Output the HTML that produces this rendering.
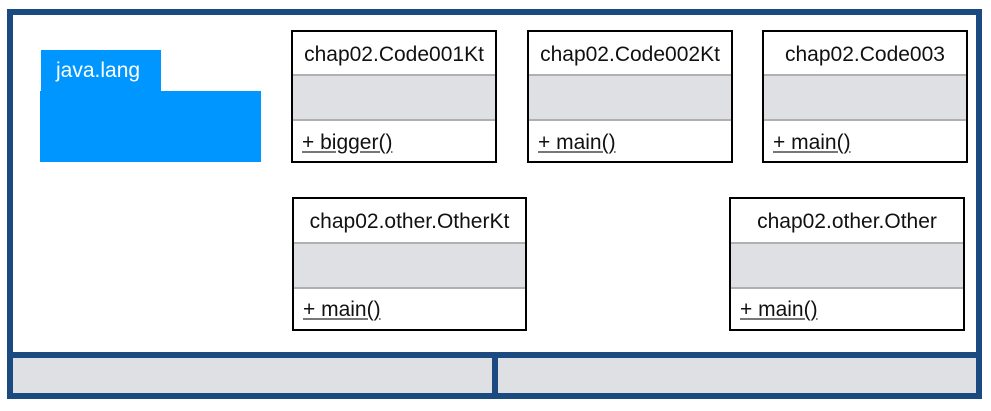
<!DOCTYPE html>
<html><head><style>
body{margin:0;width:991px;height:411px;background:#fff;position:relative;overflow:hidden;font-family:"Liberation Sans",Arial,sans-serif;}
div{position:absolute;box-sizing:border-box;}
.n{background:#1b4a80;}
.g{background:#dfe0e4;}
.box{border:2px solid #000;background:#fff;}
.t{left:0;right:0;text-align:center;font-size:21px;color:#111;white-space:nowrap;}
.sep{left:0;right:0;background:#dfe0e4;border-top:2px solid #b0b0b0;border-bottom:2px solid #b0b0b0;}
.m{left:9px;font-size:21px;color:#111;text-decoration:underline;text-decoration-color:#777;}
</style></head><body>
<div class="n" style="left:7px;top:9px;width:975px;height:390px;"></div>
<div style="left:13px;top:15px;width:963px;height:337px;background:#fff;"></div>
<div class="g" style="left:13px;top:358px;width:479px;height:35px;"></div>
<div class="g" style="left:498px;top:358px;width:478px;height:35px;"></div>

<div style="left:41px;top:50px;width:120px;height:42px;background:#0096ff;"></div>
<div style="left:40px;top:91px;width:221px;height:71px;background:#0096ff;"></div>
<div style="left:56px;top:59px;font-size:21px;color:#fff;">java.lang</div>

<div class="box" style="left:291px;top:30px;width:206px;height:133px;">
<div class="t" style="top:11px;">chap02.Code001Kt</div>
<div class="sep" style="top:42px;height:47px;"></div>
<div class="m" style="top:99px;">+ bigger()</div></div>

<div class="box" style="left:527px;top:30px;width:206px;height:133px;">
<div class="t" style="top:11px;">chap02.Code002Kt</div>
<div class="sep" style="top:42px;height:47px;"></div>
<div class="m" style="top:99px;">+ main()</div></div>

<div class="box" style="left:762px;top:30px;width:206px;height:133px;">
<div class="t" style="top:11px;">chap02.Code003</div>
<div class="sep" style="top:42px;height:47px;"></div>
<div class="m" style="top:99px;">+ main()</div></div>

<div class="box" style="left:292px;top:197px;width:235px;height:134px;">
<div class="t" style="top:11px;">chap02.other.OtherKt</div>
<div class="sep" style="top:43px;height:47px;"></div>
<div class="m" style="top:99px;">+ main()</div></div>

<div class="box" style="left:729px;top:197px;width:236px;height:134px;">
<div class="t" style="top:11px;">chap02.other.Other</div>
<div class="sep" style="top:43px;height:47px;"></div>
<div class="m" style="top:99px;">+ main()</div></div>
</body></html>
